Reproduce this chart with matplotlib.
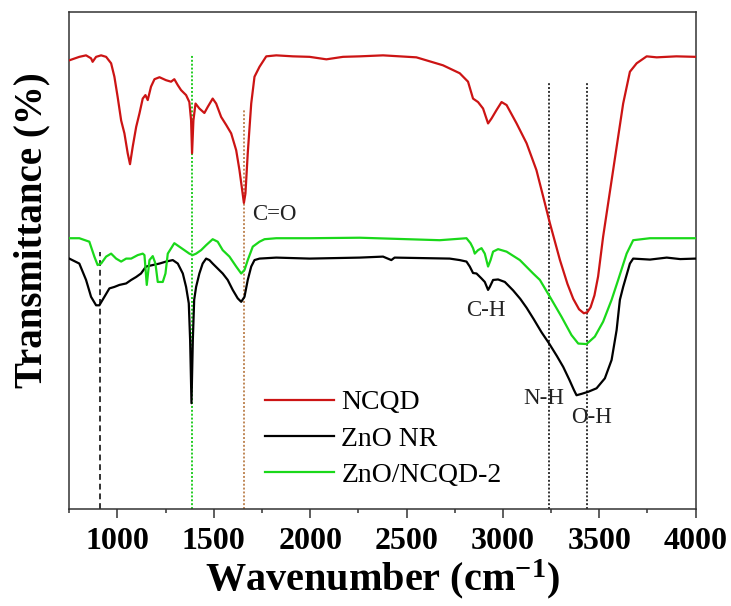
import matplotlib
matplotlib.use("Agg")
import matplotlib.pyplot as plt

plt.rcParams['font.family'] = ['Liberation Serif', 'DejaVu Serif']
plt.rcParams['mathtext.fontset'] = 'custom'
plt.rcParams['mathtext.rm'] = 'Liberation Serif:bold'
plt.rcParams['mathtext.bf'] = 'Liberation Serif:bold'
plt.rcParams['mathtext.it'] = 'Liberation Serif:bold'

# ---------------- data ----------------
ncqd_wn = [750, 802, 837, 863, 871, 889, 915, 941, 967, 984, 1001, 1019, 1036, 1053, 1065,
           1079, 1097, 1114, 1131, 1145, 1157, 1174, 1192, 1218, 1252, 1278, 1295, 1313, 1330,
           1356, 1373, 1382, 1387, 1394, 1405, 1425, 1451, 1468, 1494, 1512, 1538, 1564, 1590,
           1616, 1633, 1647, 1656, 1664, 1676, 1694, 1711, 1737, 1772, 1824, 1910, 1997, 2084,
           2170, 2257, 2378, 2551, 2689, 2776, 2819, 2845, 2871, 2897, 2923, 2941, 2967, 2993,
           3019, 3071, 3123, 3174, 3218, 3244, 3296, 3335, 3365, 3395, 3420, 3438, 3455, 3475,
           3494, 3520, 3572, 3624, 3659, 3694, 3746, 3798, 3900, 4000]
ncqd_t = [90.3, 91.0, 91.3, 90.7, 90.0, 91.0, 91.3, 91.0, 89.7, 87.0, 82.9, 78.2, 75.6, 71.6, 69.4,
          72.9, 76.9, 79.6, 82.6, 83.3, 82.3, 85.0, 86.5, 86.9, 86.3, 86.0, 86.5, 85.3, 84.3,
          83.3, 81.9, 78.2, 71.6, 78.2, 81.6, 80.6, 79.7, 80.9, 82.6, 81.6, 78.9, 77.3, 75.6,
          72.2, 68.2, 64.2, 61.6, 63.5, 71.6, 81.6, 87.0, 89.0, 91.1, 91.3, 91.1, 91.0, 90.5,
          91.0, 91.1, 91.3, 90.9, 89.3, 87.7, 86.0, 82.6, 81.9, 80.6, 77.6, 78.6, 80.3, 81.9,
          81.3, 77.6, 73.6, 68.2, 61.5, 57.5, 50.1, 45.3, 42.3, 40.2, 39.4, 39.6, 40.6, 43.0,
          46.8, 54.8, 68.2, 81.6, 88.0, 89.7, 91.1, 90.9, 91.1, 91.0]

zno_wn = [750, 802, 837, 863, 889, 906, 932, 958, 984, 1010, 1045, 1071, 1097, 1122, 1148,
          1183, 1218, 1252, 1287, 1313, 1339, 1356, 1370, 1377, 1384, 1391, 1398, 1408, 1425,
          1442, 1460, 1477, 1494, 1520, 1546, 1572, 1598, 1624, 1642, 1659, 1676, 1694, 1711,
          1737, 1824, 1997, 2257, 2378, 2421, 2438, 2724, 2776, 2811, 2828, 2845, 2863, 2889,
          2906, 2923, 2932, 2949, 2975, 3010, 3053, 3090, 3123, 3160, 3200, 3240, 3280, 3313,
          3345, 3368, 3382, 3410, 3443, 3486, 3529, 3564, 3590, 3607, 3624, 3659, 3676, 3763,
          3850, 3920, 4000]
zno_t = [50.4, 49.4, 46.1, 42.7, 41.0, 41.0, 42.7, 44.4, 44.7, 45.1, 45.4, 46.1, 46.7, 47.4, 48.8,
         49.1, 49.4, 49.8, 50.1, 49.4, 47.4, 44.7, 41.4, 34.0, 21.3, 34.0, 42.1, 44.7, 47.4,
         49.4, 50.4, 50.1, 49.4, 48.4, 47.4, 46.1, 44.1, 42.4, 41.7, 42.7, 46.1, 48.8, 50.1,
         50.4, 50.6, 50.4, 50.6, 50.8, 50.1, 50.6, 50.4, 50.1, 49.8, 48.8, 47.5, 47.4, 46.4,
         45.7, 44.1, 44.7, 46.1, 46.2, 45.7, 44.0, 42.3, 40.5, 38.2, 35.6, 33.3, 30.8, 28.6,
         26.0, 24.0, 22.9, 23.2, 23.6, 24.3, 26.3, 30.0, 36.0, 42.1, 44.7, 49.4, 50.4, 50.2,
         50.6, 50.3, 50.4]

comp_wn = [750, 802, 854, 880, 897, 915, 941, 967, 993, 1019, 1045, 1071, 1105, 1131, 1140,
           1152, 1166, 1183, 1197, 1209, 1235, 1249, 1261, 1295, 1321, 1347, 1373, 1390, 1408,
           1434, 1460, 1494, 1520, 1546, 1581, 1616, 1642, 1659, 1676, 1702, 1737, 1763, 1824,
           1997, 2257, 2672, 2811, 2832, 2845, 2854, 2871, 2889, 2906, 2923, 2936, 2949, 2975,
           3019, 3088, 3157, 3192, 3244, 3304, 3356, 3391, 3434, 3477, 3520, 3564, 3598, 3642,
           3676, 3763, 3900, 4000]
comp_t = [54.5, 54.5, 53.8, 50.8, 49.1, 49.4, 50.8, 51.4, 50.4, 49.8, 50.4, 50.4, 51.1, 51.4, 51.1,
          45.1, 50.1, 50.9, 49.4, 45.7, 45.7, 47.4, 51.4, 53.5, 52.8, 52.1, 51.4, 51.1, 51.4,
          52.1, 53.1, 54.3, 53.8, 52.1, 50.8, 48.8, 47.4, 48.1, 50.1, 52.8, 53.8, 54.3, 54.5,
          54.5, 54.6, 54.1, 54.5, 53.5, 52.5, 51.4, 52.1, 52.5, 51.4, 48.8, 50.1, 51.8, 52.3,
          51.8, 50.1, 47.4, 46.1, 42.7, 38.7, 35.0, 33.3, 33.2, 34.7, 37.7, 42.1, 46.1, 51.4,
          54.1, 54.5, 54.5, 54.5]

series_labels = ['NCQD', 'ZnO NR', 'ZnO/NCQD-2']

# reference lines: position (cm-1) and top (transmittance)
ref_pos = [910, 1388, 1658, 3238, 3437]
ref_top = [51.8, 91.3, 80.3, 86.0, 86.0]

band_labels = ['C=O', 'C-H', 'N-H', 'O-H']
band_x = [1701, 2911, 3212, 3462]
band_y = [59.2, 40.0, 22.3, 18.5]

xticks = [1000, 1500, 2000, 2500, 3000, 3500, 4000]

# ---------------- figure ----------------
fig = plt.figure(figsize=(7.31, 6.06), dpi=100)
ax = fig.add_axes([0.0948, 0.160, 0.8568, 0.820])

red = '#cc1414'
green = '#1ad81a'
ax.plot(ncqd_wn, ncqd_t, color=red, lw=1.6, label=series_labels[0], zorder=3)
ax.plot(zno_wn, zno_t, color='black', lw=1.6, label=series_labels[1], zorder=3)
ax.plot(comp_wn, comp_t, color=green, lw=1.6, label=series_labels[2], zorder=3)

ref_styles = [dict(color='#333333', ls=(0, (3, 2)), lw=1.4),
              dict(color='#22cc22', ls=(0, (1, 1)), lw=1.4),
              dict(color='#c08858', ls=(0, (1, 1)), lw=1.4),
              dict(color='#333333', ls=(0, (1, 1)), lw=1.4),
              dict(color='#333333', ls=(0, (1, 1)), lw=1.4)]
for p, t, st in zip(ref_pos, ref_top, ref_styles):
    ax.plot([p, p], [0, t], zorder=2, **st)

for lab, x, y in zip(band_labels, band_x, band_y):
    ha = 'left' if lab == 'C=O' else 'center'
    ax.text(x, y, lab, ha=ha, va='center', fontsize=16.5, color='#222222')

ax.set_xlim(750, 4000)
ax.set_ylim(0, 100)
ax.set_xticks(xticks)
ax.set_xticks(range(750, 4001, 250), minor=True)
ax.set_yticks([])
for s in ax.spines.values():
    s.set_linewidth(1.1)
    s.set_color('#333333')
ax.tick_params(axis='x', which='major', direction='out', length=6.7, width=1.1,
               pad=6, labelsize=23, color='#333333')
ax.tick_params(axis='x', which='minor', direction='out', length=3.1, width=1.1, color='#333333')
for lbl in ax.get_xticklabels():
    lbl.set_fontweight('bold')

ax.set_xlabel(r'Wavenumber (cm$^{-1}$)', fontsize=29, fontweight='bold', labelpad=1)
ax.set_ylabel('Transmittance (%)', fontsize=28, fontweight='bold')
ax.yaxis.set_label_coords(-0.03, 0.561)

ax.legend(loc='upper left', bbox_to_anchor=(0.3125, 0.240), frameon=False,
          fontsize=20, handlelength=2.5, handletextpad=0.25, labelspacing=0.39,
          borderaxespad=0, borderpad=0)

fig.savefig('out.png', dpi=100)
